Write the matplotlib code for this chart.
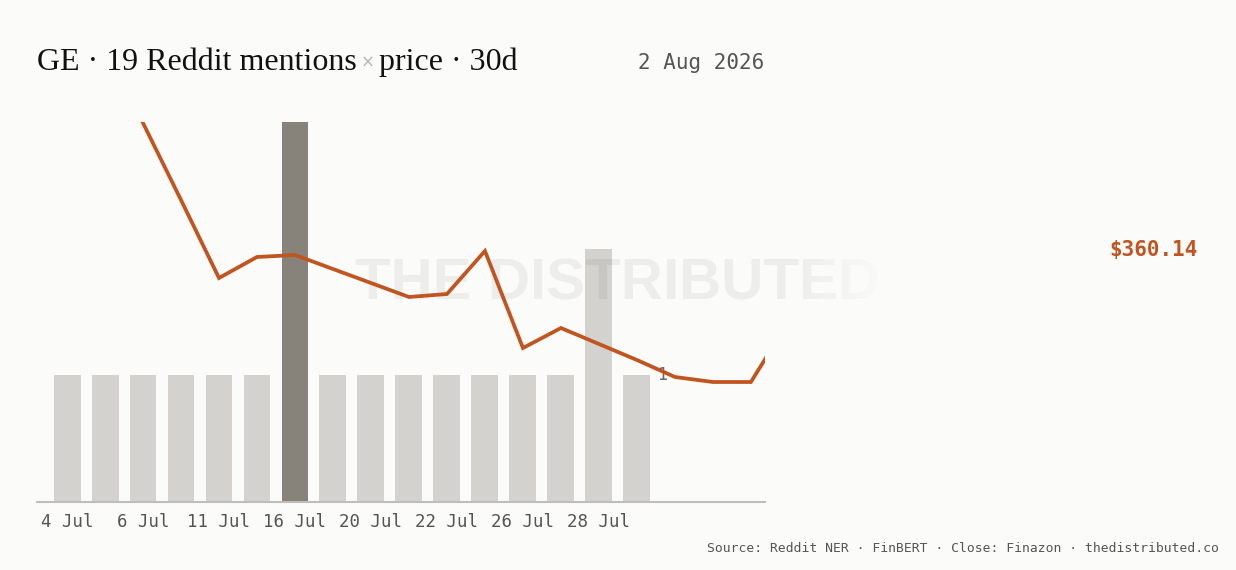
import numpy as np
import matplotlib
matplotlib.use("Agg")
import matplotlib.pyplot as plt
from matplotlib.colors import to_rgb

# dias del eje (los primeros 16 tienen menciones, el precio sigue hasta el 20)
days = ["4 Jul", "5 Jul", "6 Jul", "8 Jul", "11 Jul", "13 Jul", "16 Jul", "18 Jul",
        "20 Jul", "21 Jul", "22 Jul", "24 Jul", "26 Jul", "27 Jul", "28 Jul", "30 Jul",
        "31 Jul", "1 Aug", "2 Aug", "3 Aug"]
mentions = [1, 1, 1, 1, 1, 1, 3, 1, 1, 1, 1, 1, 1, 1, 2, 1]
# cierre diario a partir de days[2]
close = [379.9, 372.2, 364.4, 366.5, 366.7, 365.3, 363.9, 362.5, 362.8, 367.1,
         357.4, 359.4, 357.8, 356.2, 354.5, 354.0, 354.0, 360.14]
close_start = 2
tick_every = 2

title_main = "GE · 19 Reddit mentions"
title_rest = "price · 30d"
date_label = "2 Aug 2026"
source = "Source: Reddit NER · FinBERT · Close: Finazon · thedistributed.co"

bg = "#fbfbf9"
bar_color = "#d3d2ce"
bar_peak = "#88837a"
orange = "#c1541f"
grey_txt = "#555555"
mono = "DejaVu Sans Mono"

fig = plt.figure(figsize=(12.36, 5.70), dpi=100, facecolor=bg)
ax = fig.add_axes([37/1236, 1 - 502/570, (765 - 37)/1236, (502 - 122)/570])
ax.set_facecolor(bg)

x_bars = np.arange(len(mentions))
peak = int(np.argmax(mentions))
colors = [bar_peak if i == peak else bar_color for i in x_bars]
ax.bar(x_bars, mentions, width=0.71, color=colors, zorder=1)
ax.set_ylim(0, max(mentions))
ax.set_xlim(-0.79, 18.37)

# valor de la ultima barra
ax.annotate(str(mentions[-1]), (x_bars[-1], mentions[-1]), xytext=(18, 0),
            textcoords="offset points", ha="center", va="center",
            fontsize=12, color="#666666", family=mono, zorder=3)

ticks = x_bars[::tick_every]
ax.set_xticks(ticks)
ax.set_xticklabels([days[i] for i in ticks], family=mono, fontsize=12.5, color=grey_txt)
ax.tick_params(axis="x", length=0, pad=8)
ax.set_yticks([])
for s in ["top", "left", "right"]:
    ax.spines[s].set_visible(False)
ax.spines["bottom"].set_color("#bdbdbb")
ax.spines["bottom"].set_linewidth(1.5)
ax.spines["bottom"].set_zorder(2)

ax2 = ax.twinx()
ax2.set_ylim(342, 380)
ax2.set_yticks([])
for s in ax2.spines.values():
    s.set_visible(False)
x_close = np.arange(close_start, close_start + len(close))
ax2.plot(x_close, close, color=orange, lw=2.7, solid_joinstyle="miter", zorder=3)

# marca de agua
ax2.text(0.5, 0.5, "THE DISTRIBUTED", transform=fig.transFigure, ha="center", va="center",
         fontsize=42, family="Liberation Sans", weight="bold", color="black", alpha=0.055,
         zorder=1, clip_on=False)

# desvanecido del final de la marca de agua
fade = fig.add_axes([775/1236, 1 - 320/570, 115/1236, 70/570], zorder=5)
fade.axis("off")
ramp = np.zeros((1, 200, 4))
ramp[..., :3] = to_rgb(bg)
ramp[..., 3] = np.clip(np.linspace(-0.2, 1.05, 200), 0, 1)
fade.imshow(ramp, aspect="auto", interpolation="bilinear")

# titulo en tres piezas
r = fig.canvas.get_renderer()
t1 = fig.text(37/1236, 1 - 70/570, title_main, family="Liberation Serif", fontsize=23,
              color="#111111", va="baseline")
bb = t1.get_window_extent(r)
t2 = fig.text((bb.x1 + 4)/1236, 1 - 68/570, "×", family="DejaVu Sans", fontsize=12,
              color="#b5b5b5", va="baseline")
bb2 = t2.get_window_extent(r)
fig.text((bb2.x1 + 4)/1236, 1 - 70/570, title_rest, family="Liberation Serif", fontsize=23,
         color="#111111", va="baseline")

fig.text(764/1236, 1 - 63/570, date_label, family=mono, fontsize=15, color=grey_txt,
         ha="right", va="center")
fig.text(1198/1236, 1 - 250/570, "$%.2f" % close[-1], family=mono, fontsize=15,
         weight="bold", color=orange, ha="right", va="center")
fig.text(1219/1236, 1 - 549/570, source, family=mono, fontsize=9.4, color=grey_txt,
         ha="right", va="center")

fig.savefig("out.png", dpi=100, facecolor=bg)
